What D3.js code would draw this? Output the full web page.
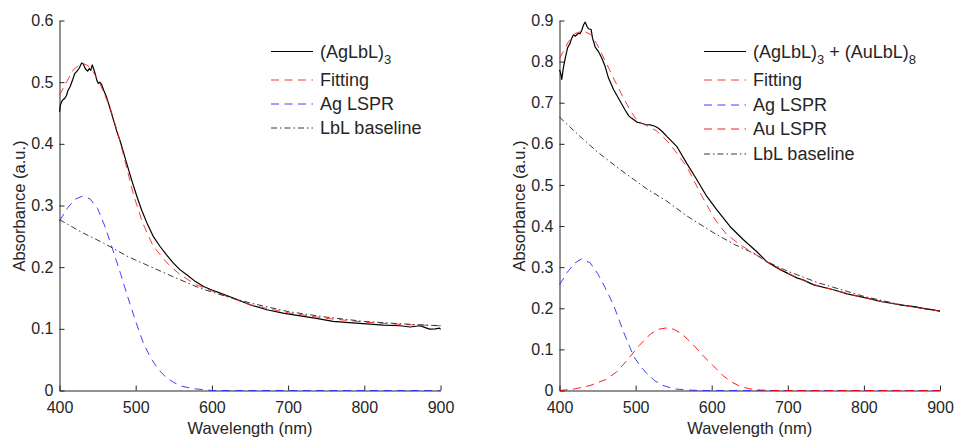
<!DOCTYPE html>
<html>
<head>
<meta charset="utf-8">
<script src="https://cdn.jsdelivr.net/npm/d3@7"></script>
<style>
  body { margin: 0; background: #fff; }
  svg { display: block; }
  text { font-family: "Liberation Sans", Arial, sans-serif; fill: #262626; }
</style>
</head>
<body>
<svg id="chart" width="954" height="437"></svg>
<script>
// ---- data: [wavelength nm, absorbance] ----
var wlTicks = [400, 500, 600, 700, 800, 900];
var yTicksLeft = [0, 0.1, 0.2, 0.3, 0.4, 0.5, 0.6];
var yTicksRight = [0, 0.1, 0.2, 0.3, 0.4, 0.5, 0.6, 0.7, 0.8, 0.9];

var agMeasured = [[400,0.452],[401,0.462],[403,0.469],[405,0.472],[407,0.474],[409,0.478],[411,0.486],[414,0.493],
  [417,0.503],[420,0.514],[423,0.518],[426,0.523],[429,0.531],[431,0.530],[433,0.524],[435,0.520],[437,0.518],
  [439,0.522],[441,0.519],[443,0.528],[445,0.521],[447,0.513],[449,0.503],[451,0.498],[453,0.500],[455,0.497],
  [458,0.487],[462,0.475],[466,0.459],[470,0.442],[475,0.421],[480,0.403],[488,0.369],[495,0.340],[501.5,0.315],
  [508,0.292],[515,0.271],[523,0.250],[532,0.2335],[541,0.219],[549.5,0.2066],[558,0.196],[567,0.1876],[578,0.177],
  [589,0.1686],[600,0.163],[611,0.158],[628,0.150],[650,0.139],[672,0.131],[695,0.125],[716,0.121],[737,0.117],
  [759,0.112],[780,0.110],[803,0.108],[825,0.106],[847,0.105],[860,0.103],[873,0.105],[880,0.102],[886,0.0995],
  [893,0.100],[899,0.101],[900,0.099]];
var agFit = [[400,0.479],[410,0.502],[418,0.520],[429,0.531],[437,0.527],[445,0.515],[453,0.498],[466,0.460],
  [476,0.420],[486,0.372],[497,0.318],[509,0.272],[523,0.234],[541,0.207],[558,0.188],[580,0.171],[608,0.158],
  [650,0.139],[700,0.126],[750,0.117],[800,0.111],[850,0.107],[900,0.105]];
var agLspr = [[400,0.275],[410,0.295],[420,0.310],[430,0.315],[440,0.311],[450,0.295],[460,0.265],[470,0.228],
  [480,0.190],[490,0.150],[500,0.112],[510,0.077],[520,0.052],[530,0.034],[540,0.021],[550,0.013],[560,0.007],
  [575,0.003],[600,0.0],[900,0.0]];
var agBaseline = [[400,0.277],[430,0.256],[458,0.239],[490,0.217],[519,0.201],[550,0.184],[584,0.166],[620,0.152],
  [650,0.142],[700,0.128],[750,0.119],[800,0.112],[850,0.108],[900,0.105]];

var auMeasured = [[400,0.780],[401.5,0.772],[403,0.757],[405,0.784],[407.5,0.808],[410.5,0.833],[414,0.845],
  [416,0.857],[418.4,0.865],[421,0.862],[423,0.866],[425,0.869],[427,0.868],[429.4,0.877],[431.5,0.889],
  [433.8,0.896],[436,0.886],[438,0.880],[441.6,0.878],[443.4,0.857],[447,0.835],[449,0.830],[451,0.825],
  [453,0.818],[455.7,0.808],[460,0.788],[464.4,0.760],[471,0.732],[477.5,0.711],[486,0.683],[491,0.668],
  [495,0.662],[501.7,0.653],[508,0.650],[513,0.647],[519,0.646],[523.5,0.644],[526,0.642],[530,0.638],
  [535,0.630],[541,0.618],[554,0.594],[567,0.553],[580.5,0.5125],[593.6,0.472],[606.8,0.4395],[624,0.399],
  [641.7,0.3666],[659,0.338],[672,0.314],[690,0.294],[712,0.274],[720,0.269],[734,0.257],[760,0.245],
  [778,0.235],[804,0.2245],[822,0.2165],[847,0.2085],[866,0.204],[880,0.199],[891,0.196],[900,0.193]];
var auFit = [[400,0.808],[406,0.828],[412,0.849],[420,0.868],[431,0.875],[441,0.866],[449,0.843],[460,0.802],
  [471,0.760],[482,0.719],[493,0.681],[500,0.662],[508,0.650],[518,0.641],[527,0.632],[535,0.619],[545,0.600],
  [555,0.575],[567,0.545],[576,0.513],[585,0.480],[594,0.450],[602,0.423],[611,0.399],[620,0.379],[637,0.355],
  [655,0.334],[672,0.314],[690,0.295],[712,0.274],[734,0.258],[760,0.245],[790,0.230],[820,0.218],[850,0.208],
  [875,0.200],[900,0.193]];
var auAgLspr = [[400,0.257],[410,0.287],[420,0.310],[429,0.320],[440,0.311],[450,0.285],[460,0.250],[471,0.208],
  [484,0.143],[497,0.085],[505,0.062],[515,0.041],[525,0.024],[535,0.013],[550,0.004],[570,0.001],[590,0.0],
  [900,0.0]];
var auAuLspr = [[400,0.0],[420,0.004],[440,0.012],[460,0.026],[475,0.045],[490,0.076],[505,0.110],[520,0.138],
  [530,0.149],[540,0.152],[550,0.149],[560,0.139],[575,0.113],[590,0.082],[600,0.064],[615,0.036],[625,0.022],
  [637,0.010],[650,0.004],[665,0.001],[680,0.0],[900,0.0]];
var auBaseline = [[400,0.665],[427,0.618],[450,0.580],[480,0.537],[515,0.490],[540,0.462],[567,0.425],[603,0.383],
  [630,0.355],[655,0.334],[672,0.314],[700,0.290],[740,0.262],[800,0.229],[850,0.208],[900,0.193]];

var legendLeft = [[["(AgLbL)", 0], ["3", 1]], [["Fitting", 0]], [["Ag LSPR", 0]], [["LbL baseline", 0]]];
var legendRight = [[["(AgLbL)", 0], ["3", 1], [" + (AuLbL)", 0], ["8", 1]], [["Fitting", 0]], [["Ag LSPR", 0]],
  [["Au LSPR", 0]], [["LbL baseline", 0]]];

// ---- styles ----
var sMeas = {color: "#000", dash: null, w: 1.2};
var sFit = {color: "#ff2020", dash: "8,5.5", w: 0.9};
var sAg = {color: "#2a2aff", dash: "8,5.5", w: 0.9};
var sAu = {color: "#ff0000", dash: "8,5.5", w: 0.9};
var sBase = {color: "#222", dash: "6,3,1.5,3", w: 0.9};

var svg = d3.select("#chart");

function drawPanel(p) {
  var x = d3.scaleLinear().domain([400, 900]).range([p.left, p.right]);
  var y = d3.scaleLinear().domain([0, p.yMax]).range([390.5, 20.5]);
  var g = svg.append("g");

  var fmt = function(d) { return d === 0 ? "0" : d3.format(".1f")(d); };

  var xa = g.append("g").attr("transform", "translate(0,390.5)")
    .call(d3.axisBottom(x).tickValues(wlTicks).tickSizeInner(-5).tickSizeOuter(0).tickPadding(11.5)
      .tickFormat(d3.format("d")));
  var ya = g.append("g").attr("transform", "translate(" + p.left + ",0)")
    .call(d3.axisLeft(y).tickValues(p.yTicks).tickSizeInner(-5).tickSizeOuter(0).tickPadding(6)
      .tickFormat(fmt));
  [xa, ya].forEach(function(a) {
    a.selectAll("path, line").attr("stroke", "#262626");
    a.selectAll("text").attr("fill", "#262626").style("font-size", "16px")
      .style("font-family", '"Liberation Sans", Arial, sans-serif');
  });

  g.append("text").attr("x", (p.left + p.right) / 2).attr("y", 433.5)
    .attr("text-anchor", "middle").style("font-size", "16.5px").text("Wavelength (nm)");
  g.append("text").attr("transform", "translate(" + (p.left - 35) + ",206) rotate(-90)")
    .attr("text-anchor", "middle").style("font-size", "16.5px").text("Absorbance (a.u.)");

  var line = d3.line().x(function(d) { return x(d[0]); }).y(function(d) { return y(d[1]); });

  p.series.forEach(function(s) {
    g.append("path").datum(s.data)
      .attr("d", line)
      .attr("fill", "none")
      .attr("stroke", s.style.color)
      .attr("stroke-width", s.style.w)
      .attr("stroke-dasharray", s.style.dash)
      .attr("stroke-linejoin", "round");
  });

  // legend
  p.series.forEach(function(s, i) {
    var ry = p.legY[i];
    g.append("line").attr("x1", p.legX).attr("x2", p.legX + 42).attr("y1", ry).attr("y2", ry)
      .attr("stroke", s.style.color).attr("stroke-width", s.style.w)
      .attr("stroke-dasharray", s.style.dash);
    var t = g.append("text").attr("x", p.legX + 49).attr("y", ry + 6).style("font-size", "18px");
    var shifted = false;
    p.legend[i].forEach(function(part) {
      var ts = t.append("tspan").text(part[0]);
      if (part[1]) { ts.attr("dy", 6.5).style("font-size", "13px"); shifted = true; }
      else if (shifted) { ts.attr("dy", -6.5); shifted = false; }
    });
  });
}

drawPanel({
  left: 59.5, right: 440.5, yMax: 0.6, yTicks: yTicksLeft,
  legX: 271, legY: [51.5, 80, 104, 128], legend: legendLeft,
  series: [
    {data: agMeasured, style: sMeas},
    {data: agFit, style: sFit},
    {data: agLspr, style: sAg},
    {data: agBaseline, style: sBase}
  ]
});

drawPanel({
  left: 559.5, right: 940, yMax: 0.9, yTicks: yTicksRight,
  legX: 704, legY: [51.5, 80, 105, 129, 154], legend: legendRight,
  series: [
    {data: auMeasured, style: sMeas},
    {data: auFit, style: sFit},
    {data: auAgLspr, style: sAg},
    {data: auAuLspr, style: sAu},
    {data: auBaseline, style: sBase}
  ]
});
</script>
</body>
</html>
